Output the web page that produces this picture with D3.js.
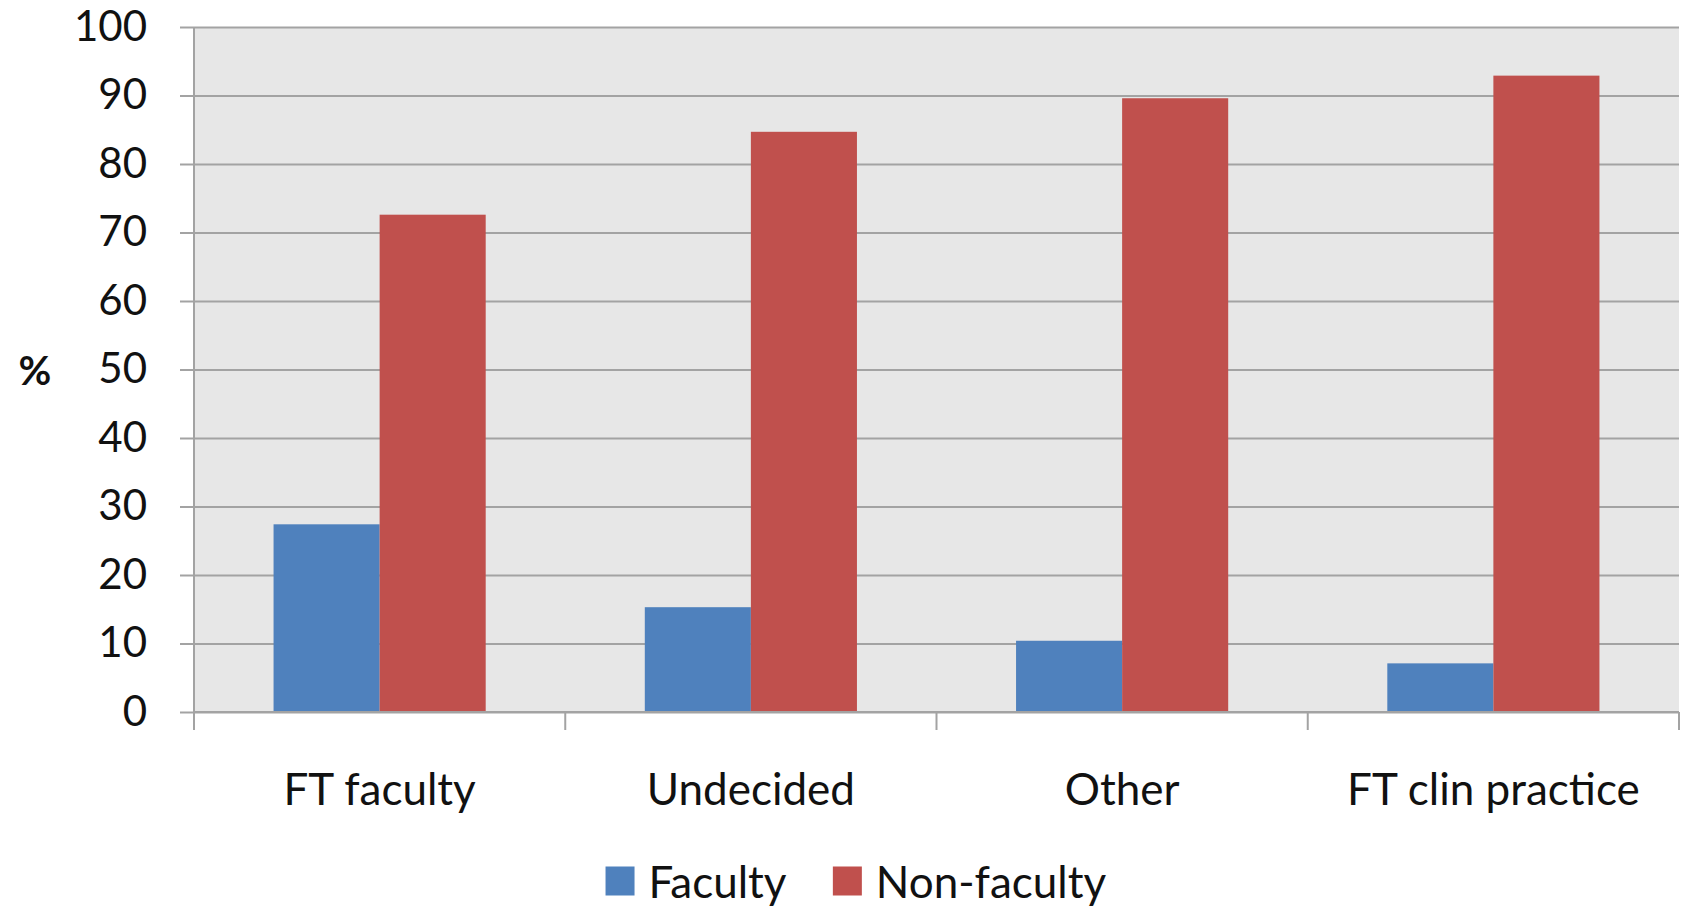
<!DOCTYPE html>
<html>
<head>
<meta charset="utf-8">
<script src="https://cdn.jsdelivr.net/npm/d3@7"></script>
<style>
  html, body { margin: 0; padding: 0; background: #ffffff; }
  svg { display: block; }
  text { font-family: Lato, "Open Sans", sans-serif; fill: #111; }
</style>
</head>
<body>
<svg id="chart" width="1684" height="910"></svg>
<script>
// Career plans by group (percent of respondents)
const categories = ["FT faculty", "Undecided", "Other", "FT clin practice"];
const seriesNames = ["Faculty", "Non-faculty"];
const facultyValues = [27.4, 15.3, 10.4, 7.1];
const nonFacultyValues = [72.6, 84.7, 89.6, 92.9];
const yTicks = [0, 10, 20, 30, 40, 50, 60, 70, 80, 90, 100];
const seriesColors = ["#4F81BD", "#C0504D"];

const rows = categories.map((c, i) => ({
  category: c,
  values: [facultyValues[i], nonFacultyValues[i]]
}));

const svg = d3.select("#chart");
const plot = { left: 194, right: 1679, top: 27, bottom: 712 };

const x0 = d3.scaleBand()
  .domain(categories)
  .range([plot.left, plot.right])
  .paddingInner(0)
  .paddingOuter(0);

// gap between clusters = 150% of a single bar width
const barW = x0.bandwidth() / 3.5;
const x1 = d3.scaleBand()
  .domain(seriesNames)
  .range([barW * 0.75, barW * 0.75 + barW * 2])
  .padding(0);

const y = d3.scaleLinear().domain([0, 100]).range([plot.bottom, plot.top]);

// plot background
svg.append("rect")
  .attr("x", plot.left).attr("y", plot.top)
  .attr("width", plot.right - plot.left)
  .attr("height", plot.bottom - plot.top)
  .attr("fill", "#E7E7E7");

// horizontal gridlines with outward ticks, and value labels
const yAxis = d3.axisLeft(y)
  .tickValues(yTicks)
  .tickSize(-(plot.right - plot.left) - 14)
  .tickPadding(33)
  .tickFormat(d3.format("d"));

const gy = svg.append("g")
  .attr("transform", `translate(${plot.right},0)`)
  .call(yAxis);
gy.select(".domain").remove();
gy.selectAll(".tick line")
  .attr("x1", 0)
  .attr("x2", -(plot.right - plot.left) - 14)
  .attr("stroke", "#A3A3A3")
  .attr("stroke-width", 2);
gy.selectAll(".tick text")
  .attr("x", -(plot.right - plot.left) - 14 - 33)
  .attr("font-size", 42)
  .attr("fill", "#111")
  .attr("font-family", "Lato, 'Open Sans', sans-serif");

// vertical axis line
svg.append("line")
  .attr("x1", plot.left).attr("x2", plot.left)
  .attr("y1", plot.top).attr("y2", plot.bottom)
  .attr("stroke", "#A3A3A3").attr("stroke-width", 2);

// bars
const groups = svg.append("g").selectAll("g")
  .data(rows)
  .join("g")
  .attr("transform", d => `translate(${x0(d.category)},0)`);

groups.selectAll("rect")
  .data(d => d.values.map((v, i) => ({ name: seriesNames[i], value: v, idx: i })))
  .join("rect")
  .attr("x", d => x1(d.name))
  .attr("width", x1.bandwidth())
  .attr("y", d => y(d.value))
  .attr("height", d => y(0) - y(d.value))
  .attr("fill", d => seriesColors[d.idx]);

// category axis: baseline, boundary ticks, labels
const xAxis = d3.axisBottom(x0).tickSize(0).tickPadding(62);
const gx = svg.append("g")
  .attr("transform", `translate(0,${plot.bottom})`)
  .call(xAxis);
gx.select(".domain")
  .attr("stroke", "#A3A3A3").attr("stroke-width", 2)
  .attr("d", `M${plot.left},0H${plot.right}`);
gx.selectAll(".tick text")
  .attr("font-size", 44)
  .attr("fill", "#111")
  .attr("font-family", "Lato, 'Open Sans', sans-serif");

const boundaries = categories.map(c => x0(c)).concat([x0(categories[categories.length - 1]) + x0.bandwidth()]);
gx.selectAll(".boundary")
  .data(boundaries)
  .join("line")
  .attr("class", "boundary")
  .attr("x1", d => d).attr("x2", d => d)
  .attr("y1", 0).attr("y2", 18)
  .attr("stroke", "#A3A3A3").attr("stroke-width", 2);

// y-axis title
svg.append("text")
  .attr("x", 35).attr("y", y(50))
  .attr("text-anchor", "middle")
  .attr("dominant-baseline", "central")
  .attr("font-size", 40)
  .attr("font-weight", "bold")
  .text("%");

// legend
const legend = svg.append("g");
const legendItems = legend.selectAll("g")
  .data(seriesNames)
  .join("g");
legendItems.append("rect")
  .attr("width", 29).attr("height", 29)
  .attr("y", -14.5)
  .attr("fill", (d, i) => seriesColors[i]);
legendItems.append("text")
  .attr("x", 43)
  .attr("dominant-baseline", "central")
  .attr("font-size", 44)
  .text(d => d);

let offset = 0;
legendItems.each(function () {
  const g = d3.select(this);
  g.attr("transform", `translate(${offset},0)`);
  offset += this.getBBox().width + 46;
});
const legendWidth = offset - 46;
legend.attr("transform", `translate(${856 - legendWidth / 2},881)`);
</script>
</body>
</html>
